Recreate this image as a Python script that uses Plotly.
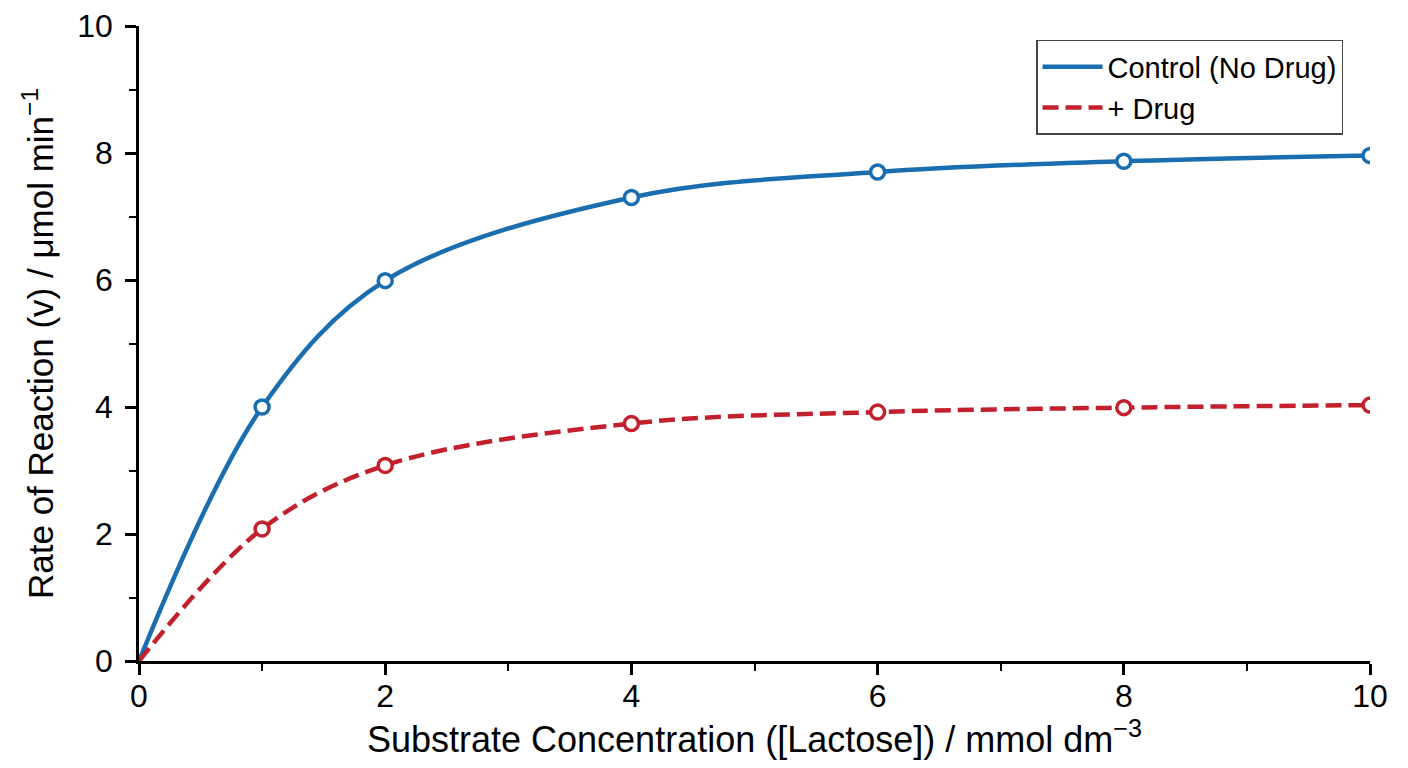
import plotly.graph_objects as go

substrate = [0, 1, 2, 4, 6, 8, 10]
control_rate = [0, 4.00, 5.99, 7.30, 7.70, 7.87, 7.96]
drug_rate = [0, 2.08, 3.08, 3.74, 3.92, 3.99, 4.03]

blue = "#1a6eb0"
red = "#c3202e"
font_family = "Liberation Sans, Arial, sans-serif"

fig = go.Figure()
fig.add_trace(go.Scatter(x=substrate, y=control_rate, mode="lines",
                         line=dict(color=blue, width=4.5, shape="spline", smoothing=1.0),
                         name="Control (No Drug)"))
fig.add_trace(go.Scatter(x=substrate, y=drug_rate, mode="lines",
                         line=dict(color=red, width=4.5, shape="spline", smoothing=1.0, dash="16px,7px"),
                         name="+ Drug"))
fig.add_trace(go.Scatter(x=substrate[1:], y=control_rate[1:], mode="markers",
                         marker=dict(size=14, color="white", line=dict(color=blue, width=3.5)),
                         showlegend=False, hoverinfo="skip"))
fig.add_trace(go.Scatter(x=substrate[1:], y=drug_rate[1:], mode="markers",
                         marker=dict(size=14, color="white", line=dict(color=red, width=3.5)),
                         showlegend=False, hoverinfo="skip"))

axis_common = dict(showgrid=False, zeroline=False, showline=True, linecolor="black", linewidth=2.5,
                   ticks="outside", ticklen=11, tickwidth=2.5, tickcolor="black",
                   tickfont=dict(family=font_family, size=32, color="black"),
                   automargin=False, ticklabeloverflow="allow",
                   minor=dict(ticks="outside", ticklen=7, tickwidth=2, tickcolor="black", dtick=1))

fig.update_xaxes(range=[0, 10], dtick=2, tick0=0, ticklabelstandoff=-6,
                 title=dict(text="Substrate Concentration ([Lactose]) / mmol dm<sup>−3</sup>",
                            font=dict(family=font_family, size=36, color="black"), standoff=4),
                 **axis_common)
fig.update_yaxes(range=[0, 10], dtick=2, tick0=0, ticklabelstandoff=6,
                 title=dict(text="Rate of Reaction (v) / μmol min<sup>−1</sup>",
                            font=dict(family=font_family, size=35, color="black"), standoff=14),
                 **axis_common)

fig.update_layout(
    width=1392, height=752,
    margin=dict(l=131, r=30, t=18, b=99),
    plot_bgcolor="white", paper_bgcolor="white",
    font=dict(family=font_family, color="black"),
    legend=dict(x=0.7287, y=0.978, xanchor="left", yanchor="top",
                bgcolor="white", bordercolor="#444", borderwidth=1.5,
                font=dict(family=font_family, size=29, color="black"),
                itemwidth=60, tracegroupgap=0),
    showlegend=True,
)

fig.write_html("out.html")
